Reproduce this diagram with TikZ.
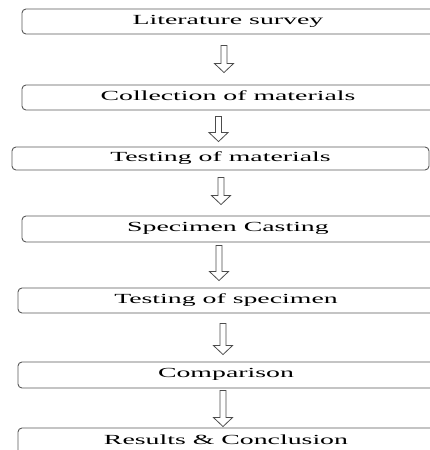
\documentclass[tikz,border=0pt]{standalone}
\usepackage{fontspec}
\newfontfamily\flowfont[FakeStretch=2.0]{Liberation Serif}
\usetikzlibrary{calc}

\tikzset{
  stage/.style={draw=black!65, line width=0.9pt, rounded corners=4pt, inner sep=0pt,
    text height=9pt, text depth=4pt, font={\flowfont\fontsize{13.9pt}{16pt}\selectfont}},
  hollowarrow/.style={draw=black!70, line width=0.8pt, fill=white}
}

\begin{document}
\begin{tikzpicture}[x=1pt, y=-1pt]
        \useasboundingbox (0,0) rectangle (430,450);

        % Stages
        \node[stage, minimum width=412pt, minimum height=25pt] (lit) at (228,21.5) {Literature survey};
        \node[stage, minimum width=412pt, minimum height=25pt] (coll) at (228,97.5) {Collection of materials};
        \node[stage, minimum width=417pt, minimum height=23pt] (tmat) at (220.5,158.5) {Testing of materials};
        \node[stage, minimum width=412pt, minimum height=26pt] (cast) at (228,229) {Specimen Casting};
        \node[stage, minimum width=416pt, minimum height=25pt] (tspec) at (226,300.5) {Testing of specimen};
        \node[stage, minimum width=416pt, minimum height=26pt] (comp) at (226,375) {Comparison};
        \node[stage, minimum width=416pt, minimum height=28pt] (res) at (226,442) {Results \& Conclusion};

        % Block arrows between stages
        \foreach \src/\dst/\ax/\ga/\gb in {lit/coll/224/11/12, coll/tmat/218.5/6/5, tmat/cast/221/7/11,
            cast/tspec/219/3/7, tspec/comp/223/10/7, comp/res/223/2/1}
            \draw[hollowarrow] let \p1=(\src.south), \p2=(\dst.north) in
                (\ax pt-3pt,\y1-\ga pt) -- (\ax pt+3pt,\y1-\ga pt) -- (\ax pt+3pt,\y2+\gb pt+9pt)
                -- (\ax pt+9.5pt,\y2+\gb pt+9pt) -- (\ax pt,\y2+\gb pt) -- (\ax pt-9.5pt,\y2+\gb pt+9pt)
                -- (\ax pt-3pt,\y2+\gb pt+9pt) -- cycle;
\end{tikzpicture}
\end{document}
